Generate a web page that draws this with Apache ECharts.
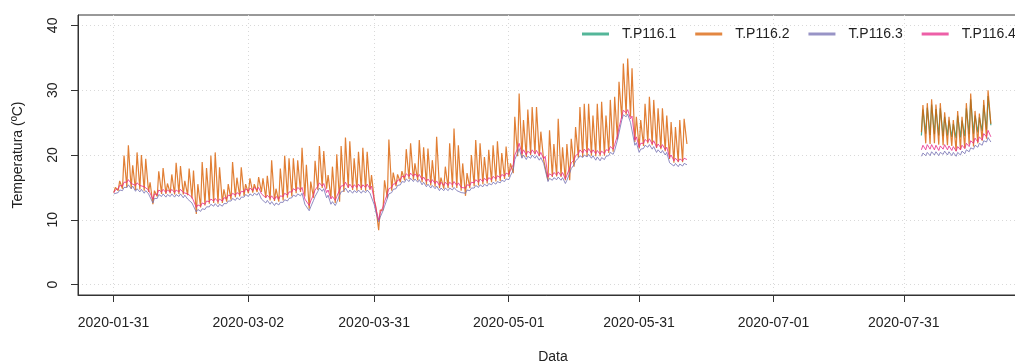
<!DOCTYPE html>
<html><head><meta charset="utf-8">
<script src="https://cdn.jsdelivr.net/npm/echarts@6/dist/echarts.min.js"></script>
<style>html,body{margin:0;padding:0;background:#fff}#c{width:1015px;height:362px}</style>
</head><body><div id="c"></div>
<script>
// ---- labels / ticks ----
const seriesNames = ['T.P116.1', 'T.P116.2', 'T.P116.3', 'T.P116.4'];
const seriesColors = ['#1B9E77', '#D95F02', '#7570B3', '#E7298A'];
const tickDays = [0, 31, 60, 91, 121, 152, 182]; // days since 2020-01-31
const tickLabels = ['2020-01-31', '2020-03-02', '2020-03-31', '2020-05-01', '2020-05-31', '2020-07-01', '2020-07-31'];
const yTicks = [0, 10, 20, 30, 40];
const seg1Start = 0;    // 2020-01-31
const seg2Start = 186;  // 2020-08-04

// ---- segment 1 (2020-01-31 .. 2020-06-11): daily low / daily high ----
const orangeLo1 = [14.2,14.5,14.8,15.0,14.8,14.6,14.7,14.5,14.3,12.4,
13.6,14.0,14.0,14.1,13.9,14.0,13.9,13.8,13.3,10.9,
11.9,12.2,12.5,12.6,12.5,12.6,12.8,13.1,13.5,13.6,
13.7,14.1,14.2,14.3,14.3,13.4,13.0,12.9,12.8,13.0,
13.4,13.6,14.1,14.3,13.6,11.7,13.4,14.6,14.9,14.8,
13.4,12.6,12.8,14.3,14.9,14.6,14.5,14.6,14.5,14.6,
13.0,8.4,11.5,13.3,14.5,15.2,15.8,16.1,16.3,16.2,
16.1,15.8,15.4,15.3,15.1,14.9,14.8,14.9,15.0,14.9,
14.5,13.7,14.9,15.2,15.3,15.5,15.6,15.8,15.9,16.0,
16.3,16.6,17.2,19.8,19.6,19.7,20.0,20.1,19.8,19.2,
16.1,16.6,16.7,16.6,16.1,16.1,18.2,19.6,19.7,19.8,
19.9,19.8,19.8,19.9,20.3,20.5,22.4,25.6,26.2,25.9,
22.0,21.0,21.4,21.8,21.5,21.1,20.9,20.6,19.4,18.8,
18.9,18.9,21.7];
const orangeHi1 = [15.0,16.0,19.9,21.5,18.4,20.4,20.0,19.4,15.8,14.5,
17.5,18.0,15.6,17.0,18.8,18.3,16.0,17.9,17.6,15.5,
18.9,18.0,19.9,20.4,18.1,14.7,15.5,18.9,16.5,18.1,
15.5,16.4,15.5,16.6,16.4,16.8,19.2,14.8,17.9,19.9,
19.5,19.5,19.2,21.1,18.5,15.9,19.1,21.4,20.6,16.9,
18.2,20.1,21.4,22.7,22.1,19.5,20.5,21.1,20.5,16.9,
12.0,11.5,16.1,22.4,17.3,17.0,17.5,20.9,21.8,18.7,
22.3,21.2,21.0,19.2,22.8,16.5,18.2,21.8,24.1,21.5,
18.7,17.2,20.0,22.3,21.8,19.7,20.8,21.5,22.1,20.3,
21.3,18.7,25.9,29.5,25.4,27.0,27.4,27.4,23.6,19.2,
23.8,21.7,25.6,21.2,21.7,22.5,24.3,27.4,27.9,27.9,
26.1,27.9,28.2,26.1,28.5,29.0,31.3,34.1,34.9,33.4,
25.9,25.4,27.9,29.0,28.5,27.2,27.2,26.1,25.1,24.3,
25.4,25.6];
const pinkLo1 = [14.2,14.8,15.2,15.8,15.6,15.3,15.3,15.1,14.6,13.2,
13.9,14.3,14.2,14.3,14.2,14.3,14.2,14.0,13.5,11.9,
12.1,12.4,12.8,12.9,12.8,12.9,13.3,13.7,13.8,13.9,
14.3,14.4,14.5,14.6,14.0,13.4,13.3,13.1,13.2,13.6,
13.8,14.3,14.5,14.6,13.2,12.2,13.9,15.2,15.2,14.2,
13.2,13.0,14.6,15.3,15.0,14.9,15.0,14.9,15.0,14.8,
13.0,10.0,12.0,14.0,15.0,15.6,16.2,16.6,16.7,16.7,
16.6,16.2,15.9,15.7,15.6,15.3,15.3,15.3,15.4,15.3,
15.0,14.9,15.3,15.7,15.8,15.9,16.0,16.2,16.3,16.5,
16.7,17.0,18.5,21.0,20.2,20.0,20.2,20.2,19.9,19.4,
16.6,16.8,16.9,16.8,16.3,18.0,19.2,20.2,20.3,20.4,
20.3,20.2,20.1,20.2,20.7,20.9,23.0,26.0,26.5,25.6,
22.3,21.2,21.8,22.0,21.7,21.2,21.1,20.8,19.6,19.1,
19.0,19.1,19.3];
const pinkHi1 = [14.6,15.3,15.8,16.2,15.9,15.7,15.6,15.3,14.8,14.0,
14.6,14.7,14.6,14.7,14.6,14.7,14.5,14.3,13.7,12.3,
12.6,12.9,13.2,13.3,13.2,13.4,13.8,14.1,14.2,14.4,
14.8,14.9,15.0,15.0,14.3,13.8,13.7,13.6,13.7,14.1,
14.3,14.8,15.0,15.0,13.5,12.9,14.6,15.7,15.6,14.6,
13.6,13.6,15.2,15.8,15.5,15.4,15.5,15.4,15.5,15.2,
11.8,11.0,12.8,14.8,15.5,16.1,16.7,17.1,17.2,17.1,
17.0,16.6,16.3,16.2,16.0,15.8,15.8,15.8,15.9,15.7,
15.3,15.4,15.8,16.2,16.3,16.4,16.5,16.7,16.8,17.0,
17.2,17.7,20.0,21.8,20.8,20.6,20.8,20.7,20.4,19.8,
17.1,17.3,17.4,17.3,16.9,18.8,19.9,20.8,20.9,21.0,
20.8,20.7,20.6,20.8,21.3,21.6,24.2,26.9,27.0,26.0,
22.8,21.8,22.4,22.5,22.2,21.7,21.6,21.2,20.0,19.5,
19.4,19.5];
const purpleLo1 = [14.0,14.2,14.5,15.0,14.8,14.4,14.3,14.1,14.0,12.6,
13.3,13.6,13.5,13.6,13.5,13.6,13.4,13.2,12.6,11.2,
11.3,11.6,12.0,12.1,12.0,12.1,12.5,12.9,13.0,13.1,
13.5,13.6,13.7,13.8,13.2,12.6,12.4,12.2,12.3,12.7,
12.9,13.4,13.6,13.7,12.4,11.4,13.0,14.4,14.4,13.4,
12.4,12.2,13.8,14.5,14.2,14.1,14.2,14.1,14.2,14.1,
12.3,9.7,11.4,13.3,14.2,14.8,15.4,15.8,15.9,15.9,
15.8,15.4,15.1,14.9,14.8,14.5,14.5,14.5,14.6,14.5,
14.2,14.1,14.5,14.9,15.0,15.1,15.2,15.4,15.5,15.7,
15.9,16.2,17.7,20.3,19.5,19.3,19.5,19.5,19.2,18.7,
15.9,16.1,16.2,16.1,15.6,17.2,18.5,19.5,19.6,19.7,
19.5,19.2,19.1,19.3,19.9,20.1,22.3,25.4,25.9,25.0,
21.5,20.4,21.0,21.2,20.9,20.4,20.3,20.0,18.8,18.3,
18.2,18.3,18.5];
const purpleHi1 = [14.3,14.6,15.0,15.4,15.2,14.8,14.7,14.5,14.2,13.3,
13.9,14.0,13.9,14.0,13.9,14.0,13.8,13.5,12.9,11.6,
11.7,12.0,12.4,12.5,12.4,12.5,12.9,13.3,13.4,13.5,
13.9,14.0,14.1,14.2,13.5,13.0,12.8,12.6,12.7,13.1,
13.3,13.8,14.0,14.1,12.7,12.0,13.6,14.9,14.8,13.8,
12.8,12.7,14.3,14.9,14.6,14.5,14.6,14.5,14.6,14.4,
11.2,10.4,12.1,14.0,14.7,15.3,15.9,16.3,16.4,16.3,
16.2,15.8,15.5,15.3,15.2,14.9,14.9,14.9,15.0,14.8,
14.5,14.6,14.9,15.3,15.4,15.5,15.6,15.8,15.9,16.1,
16.3,16.8,19.3,21.0,20.0,19.8,20.0,19.9,19.6,19.0,
16.4,16.5,16.6,16.5,16.1,17.9,19.1,19.9,20.0,20.1,
19.9,19.7,19.6,19.8,20.4,20.7,23.4,26.2,26.3,25.3,
21.9,20.9,21.5,21.6,21.3,20.8,20.7,20.4,19.1,18.7,
18.6,18.7];

// ---- segment 2 (2020-08-04 .. 2020-08-21) ----
const greenLo2  = [23.0,23.3,23.1,23.2,23.0,22.9,23.0,22.8,22.6,22.7,22.9,23.2,23.3,23.5,23.7,23.9,24.6];
const greenHi2  = [27.0,27.3,27.8,27.1,27.2,25.9,25.3,24.8,26.1,25.3,27.2,28.6,26.1,25.8,27.7,29.1];
const orangeLo2 = [23.5,21.8,21.7,21.8,21.6,21.5,21.5,21.4,20.6,20.8,21.0,21.6,21.3,21.8,22.2,22.5,24.8];
const orangeHi2 = [27.7,28.0,28.6,27.8,28.0,26.6,25.9,25.4,26.8,25.9,28.0,29.5,26.8,26.4,28.5,30.0];
const purpleLo2 = [19.8,19.9,19.9,20.0,19.9,20.1,20.0,19.9,19.8,20.0,20.2,20.5,20.9,21.2,21.5,22.0,22.0];
const purpleHi2 = [20.3,20.4,20.5,20.5,20.4,20.6,20.5,20.4,20.4,20.6,20.8,21.1,21.5,21.8,22.2,22.7];
const pinkLo2   = [20.8,20.8,20.9,20.8,20.7,20.9,20.8,20.7,20.6,20.8,21.0,21.3,21.8,22.0,22.3,22.8,22.8];
const pinkHi2   = [21.5,21.6,21.6,21.5,21.4,21.6,21.4,21.3,21.3,21.5,21.8,22.2,22.6,22.8,23.3,23.8];

function build(startDay, lo, hi) {
  const out = [];
  for (let i = 0; i < hi.length; i++) {
    out.push([startDay + i + 0.05, lo[i]]);
    out.push([startDay + i + 0.4, hi[i]]);
  }
  out.push([startDay + hi.length + 0.05, lo[hi.length]]);
  return out;
}
function joinSeg(a, b) { return a.concat([[160, null]], b); }

const dataSets = [
  build(seg2Start, greenLo2, greenHi2),
  joinSeg(build(seg1Start, orangeLo1, orangeHi1), build(seg2Start, orangeLo2, orangeHi2)),
  joinSeg(build(seg1Start, purpleLo1, purpleHi1), build(seg2Start, purpleLo2, purpleHi2)),
  joinSeg(build(seg1Start, pinkLo1, pinkHi1), build(seg2Start, pinkLo2, pinkHi2))
];
const lineWidths = [1.2, 1.2, 1, 1];

const FONT = "'Liberation Sans', Arial, sans-serif";
const chart = echarts.init(document.getElementById('c'), null, {renderer: 'canvas'});
chart.setOption({
  animation: false,
  backgroundColor: '#ffffff',
  textStyle: {fontFamily: FONT},
  grid: {left: 78, top: 15, width: 950, height: 280, outerBoundsMode: 'none', containLabel: false,
    show: true, borderColor: '#333', borderWidth: 1, backgroundColor: 'transparent'},
  legend: {
    left: 577, top: 22, width: 600, itemWidth: 27, itemHeight: 3, itemGap: 19, icon: 'rect',
    itemStyle: {opacity: 0.75},
    textStyle: {fontSize: 14, color: '#222', fontFamily: FONT, padding: [0, 0, 0, 8]},
    data: seriesNames
  },
  xAxis: {
    type: 'value', min: -8.2, max: 210.6,
    name: 'Data', nameLocation: 'middle', nameGap: 55,
    nameTextStyle: {fontSize: 14, color: '#222', fontFamily: FONT},
    axisLine: {show: true, onZero: false, lineStyle: {color: '#333'}},
    axisTick: {show: true, length: 7, customValues: tickDays, lineStyle: {color: '#333'}},
    axisLabel: {customValues: tickDays, formatter: function (v) { const i = tickDays.indexOf(v); return i >= 0 ? tickLabels[i] : ''; },
      fontSize: 14, color: '#222', margin: 21, fontFamily: FONT},
    splitLine: {show: true, lineStyle: {type: [1, 3], color: '#d9d9d9', width: 1}}
  },
  yAxis: {
    type: 'value', min: -1.6, max: 41.6,
    name: 'Temperatura (ºC)', nameLocation: 'middle', nameGap: 53,
    nameTextStyle: {fontSize: 14, color: '#222', fontFamily: FONT},
    axisLine: {show: true, onZero: false, lineStyle: {color: '#333'}},
    axisTick: {show: true, length: 7, customValues: yTicks, lineStyle: {color: '#333'}},
    axisLabel: {customValues: yTicks, rotate: 90, fontSize: 14, color: '#222', margin: 18, fontFamily: FONT},
    splitLine: {show: true, lineStyle: {type: [1, 3], color: '#d9d9d9', width: 1}}
  },
  series: seriesNames.map(function (n, k) {
    return {
      name: n, type: 'line', data: dataSets[k], showSymbol: false, symbol: 'none',
      connectNulls: false, silent: true, color: seriesColors[k],
      lineStyle: {width: lineWidths[k], opacity: 0.8, color: seriesColors[k]}
    };
  })
});
</script>
</body></html>
